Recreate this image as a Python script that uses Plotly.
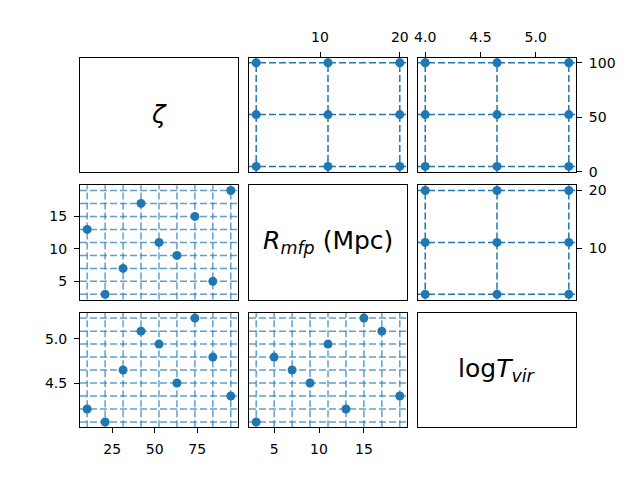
import plotly.graph_objects as go

# ---- data ----
zeta_samples = [10.28, 20.83, 31.39, 41.94, 52.5, 63.06, 73.61, 84.17, 94.72]
rmfp_samples = [13, 3, 7, 17, 11, 9, 15, 5, 19]
logt_samples = [4.217, 4.072, 4.65, 5.083, 4.939, 4.506, 5.228, 4.794, 4.361]

zeta_grid = [5, 52.5, 100]
rmfp_grid = [2, 11, 20]
logt_grid = [4.0, 4.65, 5.3]

labels = ["<i>ζ</i>", "<i>R</i><sub><i>mfp</i></sub> (Mpc)", "log<i>T</i><sub><i>vir</i></sub>"]

C0 = "#1f77b4"
C0_light = "rgba(31,119,180,0.7)"
FONT = "DejaVu Sans"

# page body has an 8px margin; size the figure so it fits the 640x480 window
OFF = 8
W, H = 640 - 2 * OFF, 480 - 2 * OFF

L, R, B, T = 80.0, 576.0, 427.2, 57.6
wsp, hsp = 0.07, 0.117
cw = (R - L) / (3 + 2 * wsp)
ch = (B - T) / (3 + 2 * hsp)


def px_x(p):
    return (p - OFF) / W


def px_y(p):
    return 1 - (p - OFF) / H


xdom = []
for i in range(3):
    x0 = L + i * cw * (1 + wsp)
    xdom.append([px_x(x0), px_x(x0 + cw)])
ydom = []
for r in range(3):
    y0 = T + r * ch * (1 + hsp)
    ydom.append([px_y(y0 + ch), px_y(y0)])


def pad(vals, m=0.05):
    lo, hi = min(vals), max(vals)
    d = (hi - lo) * m
    return [lo - d, hi + d]


fig = go.Figure()
layout = {}


def axname(r, c):
    return r * 3 + c + 1


def base_axis(dom, anchor):
    return dict(domain=dom, anchor=anchor, showline=True, mirror=True, linecolor="black",
                linewidth=1.1, showgrid=False, zeroline=False, ticks="", showticklabels=False,
                tickfont=dict(family=FONT, size=14, color="black"), ticklen=5, tickwidth=1.1,
                tickcolor="black", ticklabelstandoff=4, automargin=False)


for r in range(3):
    for c in range(3):
        n = axname(r, c)
        layout[f"xaxis{n}"] = base_axis(xdom[c], f"y{n}")
        layout[f"yaxis{n}"] = base_axis(ydom[r], f"x{n}")

samples = [zeta_samples, rmfp_samples, logt_samples]
grids = [zeta_grid, rmfp_grid, logt_grid]
grid_ranges = [[0, 104.75], pad(rmfp_grid), pad(logt_grid)]
sample_ranges = [pad(zeta_samples), pad(rmfp_samples), pad(logt_samples)]

shapes = []
for r in range(3):
    for c in range(3):
        n = axname(r, c)
        xs = f"x{n}"
        ys = f"y{n}"
        if r == c:
            layout[f"xaxis{n}"]["range"] = [0, 1]
            layout[f"yaxis{n}"]["range"] = [0, 1]
            fig.add_annotation(x=0.5, y=0.5, xref=xs, yref=ys, text=labels[r], showarrow=False,
                               font=dict(family=FONT, size=25, color="black"))
            continue
        if c > r:
            gx, gy = grids[c], grids[r]
            xx = [a for b in gy for a in gx]
            yy = [b for b in gy for a in gx]
            layout[f"xaxis{n}"]["range"] = grid_ranges[c]
            layout[f"yaxis{n}"]["range"] = grid_ranges[r]
            color = C0
            vx, vy = gx, gy
        else:
            xx, yy = samples[c], samples[r]
            layout[f"xaxis{n}"]["range"] = sample_ranges[c]
            layout[f"yaxis{n}"]["range"] = sample_ranges[r]
            color = C0_light
            vx, vy = xx, yy
        for v in vx:
            shapes.append(dict(type="line", xref=xs, yref=f"{ys} domain", x0=v, x1=v, y0=0, y1=1,
                               line=dict(color=color, width=1.5, dash="7px,3px"), layer="below"))
        for v in vy:
            shapes.append(dict(type="line", yref=ys, xref=f"{xs} domain", y0=v, y1=v, x0=0, x1=1,
                               line=dict(color=color, width=1.5, dash="7px,3px"), layer="below"))
        fig.add_trace(go.Scatter(x=xx, y=yy, mode="markers", xaxis=xs, yaxis=ys,
                                 marker=dict(color=C0, size=9), showlegend=False,
                                 cliponaxis=False))


def set_ticks(ax, vals, text, side):
    ax.update(ticks="outside", showticklabels=True, tickvals=vals, ticktext=text, side=side)


set_ticks(layout["xaxis2"], [10, 20], ["10", "20"], "top")
set_ticks(layout["xaxis3"], [4.0, 4.5, 5.0], ["4.0", "4.5", "5.0"], "top")
set_ticks(layout["yaxis3"], [0, 50, 100], ["0", "50", "100"], "right")
set_ticks(layout["yaxis4"], [5, 10, 15], ["5", "10", "15"], "left")
set_ticks(layout["yaxis6"], [10, 20], ["10", "20"], "right")
set_ticks(layout["xaxis7"], [25, 50, 75], ["25", "50", "75"], "bottom")
set_ticks(layout["yaxis7"], [4.5, 5.0], ["4.5", "5.0"], "left")
set_ticks(layout["xaxis8"], [5, 10, 15], ["5", "10", "15"], "bottom")

fig.update_layout(**layout)
fig.update_layout(width=W, height=H, autosize=False,
                  margin=dict(l=0, r=0, t=0, b=0, pad=0, autoexpand=False),
                  plot_bgcolor="white", paper_bgcolor="white", shapes=shapes,
                  font=dict(family=FONT, size=14, color="black"))

fig.write_html("out.html", config={"displayModeBar": False})
